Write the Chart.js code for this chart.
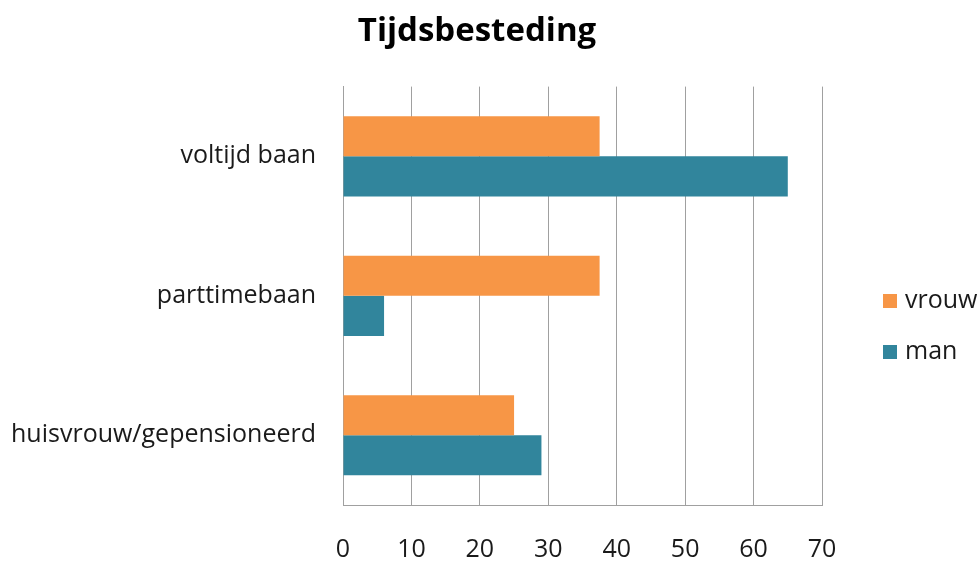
<!DOCTYPE html>
<html>
<head>
<meta charset="utf-8">
<script src="https://cdn.jsdelivr.net/npm/chart.js@4.4.0/dist/chart.umd.min.js"></script>
<style>
  body { margin: 0; background: #fff; overflow: hidden; }
</style>
</head>
<body>
<canvas id="grafico" width="979" height="563"></canvas>
<script>
// Categorieën en waarden
const categorieen = ['voltijd baan', 'parttimebaan', 'huisvrouw/gepensioneerd'];
const vrouw = [37.5, 37.5, 25];
const man = [65, 6, 29];
const xTicks = [0, 10, 20, 30, 40, 50, 60, 70];

const lettertype = "'Open Sans', 'Noto Sans', sans-serif";

// Legenda rechts, zelf getekend
const legendaPlugin = {
  id: 'legenda',
  afterDraw(chart) {
    const ctx = chart.ctx;
    const sets = chart.data.datasets;
    ctx.save();
    ctx.font = '25px ' + lettertype;
    ctx.textBaseline = 'middle';
    ctx.textAlign = 'left';
    sets.forEach((ds, i) => {
      const y = 301 + i * 51;
      ctx.fillStyle = ds.backgroundColor;
      ctx.fillRect(883, y - 7, 14, 14);
      ctx.fillStyle = '#1a1a1a';
      ctx.fillText(ds.label, 905, y);
    });
    ctx.restore();
  }
};

const ctx = document.getElementById('grafico').getContext('2d');
window.myChart = new Chart(ctx, {
  type: 'bar',
  data: {
    labels: categorieen,
    datasets: [
      { label: 'vrouw', data: vrouw, backgroundColor: '#F79646' },
      { label: 'man', data: man, backgroundColor: '#31859C' }
    ]
  },
  options: {
    indexAxis: 'y',
    responsive: false,
    animation: false,
    categoryPercentage: 0.575,
    barPercentage: 1,
    layout: { padding: { left: 0, right: 25, top: 0, bottom: 0 } },
    plugins: {
      legend: { display: false },
      tooltip: { enabled: false },
      title: {
        display: true,
        text: 'Tijdsbesteding',
        color: '#000',
        font: { family: lettertype, size: 33, weight: 'bold', lineHeight: 1.2 },
        padding: { top: 12, bottom: 35 }
      }
    },
    scales: {
      x: {
        min: 0,
        max: 70,
        afterBuildTicks: s => { s.ticks = xTicks.map(v => ({ value: v })); },
        afterFit: s => { s.height = 58; },
        grid: { color: '#a0a0a0', lineWidth: 1, drawTicks: false },
        border: { display: true, color: '#a0a0a0' },
        ticks: { color: '#1a1a1a', padding: 30, font: { family: lettertype, size: 25 } }
      },
      y: {
        afterFit: s => { s.width = 343; },
        grid: { display: false, drawTicks: false },
        border: { display: true, color: '#a0a0a0' },
        ticks: { color: '#1a1a1a', padding: 27, font: { family: lettertype, size: 25 } }
      },
      // lege as rechts: ruimte voor de legenda
      rechts: {
        axis: 'y',
        type: 'linear',
        position: 'right',
        display: true,
        grid: { display: false, drawTicks: false },
        border: { display: false },
        ticks: { display: false },
        afterFit: s => { s.width = 132; }
      }
    }
  },
  plugins: [legendaPlugin]
});
</script>
</body>
</html>
